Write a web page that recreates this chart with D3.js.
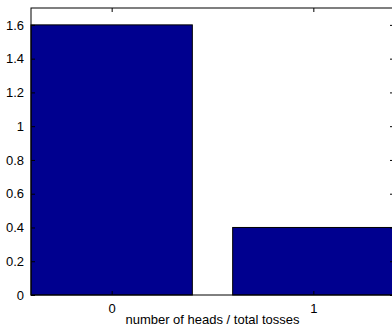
<!DOCTYPE html>
<html><head><meta charset="utf-8">
<script src="https://cdn.jsdelivr.net/npm/d3@7"></script>
<style>body{margin:0;background:#fff}svg{display:block}text{font-family:"Liberation Sans",Arial,sans-serif;font-size:13px;fill:#000}</style>
</head><body>
<script>
const categories = [0, 1];
const values = [1.6, 0.4];
const yTicks = [0, 0.2, 0.4, 0.6, 0.8, 1, 1.2, 1.4, 1.6];
const xLabel = "number of heads / total tosses";

const W = 392, H = 335;
const m = {left: 31, top: 8, right: 394, bottom: 295};
const svg = d3.select("body").append("svg").attr("width", W).attr("height", H);
const x = d3.scaleLinear().domain([-0.4, 1.4]).range([m.left, m.right]);
const y = d3.scaleLinear().domain([0, 1.7]).range([m.bottom, m.top]);
const bw = x(0.8) - x(0);

svg.selectAll("rect.bar").data(values).enter().append("rect")
  .attr("class", "bar")
  .attr("x", (d, i) => x(categories[i]) - bw / 2)
  .attr("y", d => y(d))
  .attr("width", bw)
  .attr("height", d => y(0) - y(d))
  .attr("fill", "#00008f").attr("stroke", "#000").attr("stroke-width", 1);

const tl = 4;
const axL = d3.axisLeft(y).tickValues(yTicks).tickSize(-tl).tickPadding(tl + 3).tickFormat(d3.format("~g"));
const gL = svg.append("g").attr("transform", `translate(${m.left},0)`).call(axL);
const axR = d3.axisRight(y).tickValues(yTicks).tickSize(-tl).tickFormat("");
const gR = svg.append("g").attr("transform", `translate(${m.right},0)`).call(axR);
const axB = d3.axisBottom(x).tickValues(categories).tickSize(-tl).tickPadding(tl + 5).tickFormat(d3.format("d"));
const gB = svg.append("g").attr("transform", `translate(0,${m.bottom})`).call(axB);
const axT = d3.axisTop(x).tickValues(categories).tickSize(-tl).tickFormat("");
const gT = svg.append("g").attr("transform", `translate(0,${m.top})`).call(axT);
[gL, gR, gB, gT].forEach(g => {
  g.select(".domain").remove();
  g.selectAll(".tick line").attr("stroke", "#000");
  g.selectAll("text").attr("font-family", '"Liberation Sans",Arial,sans-serif').attr("font-size", 13).attr("fill", "#000");
});
svg.append("rect").attr("x", m.left).attr("y", m.top)
  .attr("width", m.right - m.left).attr("height", m.bottom - m.top)
  .attr("fill", "none").attr("stroke", "#000").attr("stroke-width", 1);

svg.append("text").attr("x", (m.left + m.right) / 2).attr("y", 324)
  .attr("text-anchor", "middle").text(xLabel);
</script>
</body></html>
